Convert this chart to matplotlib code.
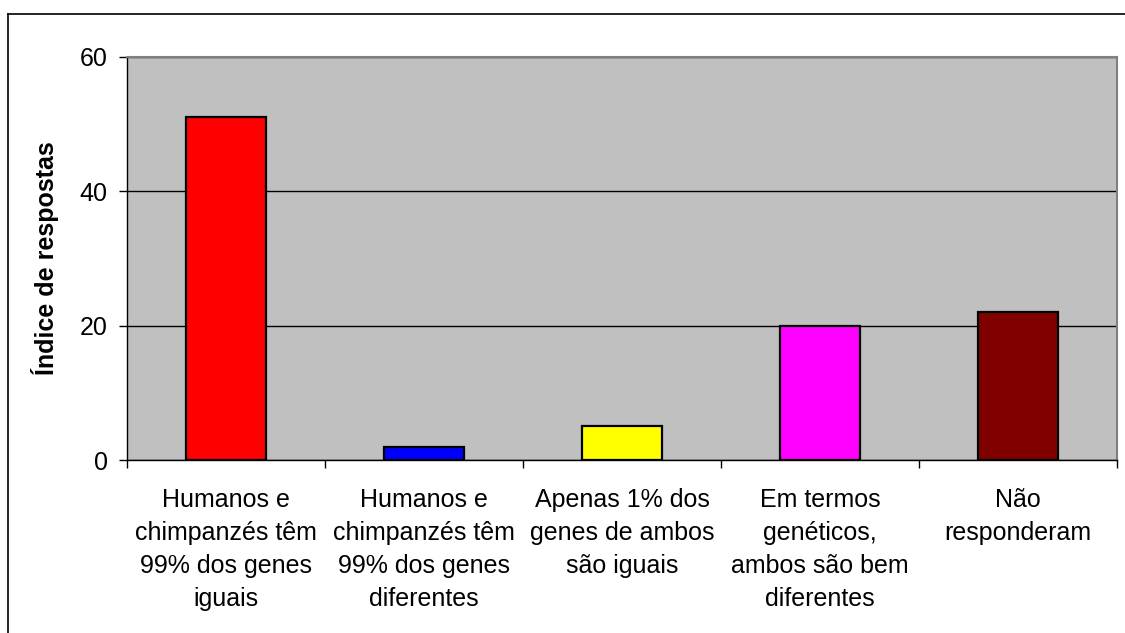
import matplotlib
matplotlib.use("Agg")
import matplotlib.pyplot as plt
from matplotlib.lines import Line2D

categories = [
    "Humanos e\nchimpanzés têm\n99% dos genes\niguais",
    "Humanos e\nchimpanzés têm\n99% dos genes\ndiferentes",
    "Apenas 1% dos\ngenes de ambos\nsão iguais",
    "Em termos\ngenéticos,\nambos são bem\ndiferentes",
    "Não\nresponderam",
]
values = [51, 2, 5, 20, 22]
bar_colors = ["#FF0000", "#0000FF", "#FFFF00", "#FF00FF", "#800000"]
y_ticks = [0, 20, 40, 60]
y_label = "Índice de respostas"

plt.rcParams["font.family"] = ["Liberation Sans", "DejaVu Sans"]

W, H = 1125, 633
fig = plt.figure(figsize=(W / 100, H / 100), dpi=100)
ax = fig.add_axes([127 / W, 1 - 460 / H, 990 / W, 403 / H])

x = list(range(len(categories)))
ax.set_facecolor("#C0C0C0")
ax.bar(x, values, width=0.4, color=bar_colors, edgecolor="black", linewidth=1.6, zorder=3)

ax.set_xlim(-0.5, len(categories) - 0.5)
ax.set_ylim(0, 60)
ax.set_yticks(y_ticks)
ax.set_yticklabels([str(v) for v in y_ticks], fontsize=18)
ax.yaxis.grid(True, color="black", linewidth=1, zorder=1)
ax.set_axisbelow(True)

# category labels at centers, tick marks at the boundaries
ax.set_xticks(x)
ax.set_xticklabels(categories, fontsize=18, linespacing=1.47)
ax.tick_params(axis="x", which="major", length=0, pad=20)
ax.set_xticks([i - 0.5 for i in range(len(categories) + 1)], minor=True)
ax.tick_params(axis="x", which="minor", length=6, width=1, direction="out")
ax.tick_params(axis="y", length=6, width=1, direction="out", pad=8)

for side in ["top", "right"]:
    ax.spines[side].set_color("#808080")
    ax.spines[side].set_linewidth(1.5)
for side in ["left", "bottom"]:
    ax.spines[side].set_color("black")
    ax.spines[side].set_linewidth(1)

ax.set_ylabel(y_label, fontsize=18, fontweight="bold")
ax.yaxis.set_label_coords((45 - 127) / 990, 0.5)
ax.yaxis.label.set_va("center")

# outer chart border (only top and left show)
fig.add_artist(Line2D([8 / W, 8 / W], [0, 1 - 14 / H], transform=fig.transFigure,
                      color="black", linewidth=1.2))
fig.add_artist(Line2D([8 / W, 1], [1 - 14 / H, 1 - 14 / H], transform=fig.transFigure,
                      color="black", linewidth=1.2))

fig.savefig("out.png", dpi=100)
